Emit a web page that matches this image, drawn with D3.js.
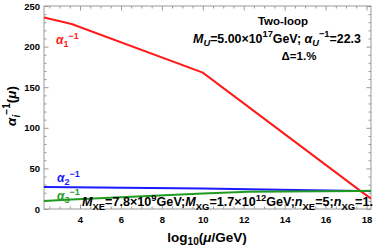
<!DOCTYPE html>
<html>
<head>
<meta charset="UTF-8">
<style>
  body { margin: 0; background: #fff; }
  svg { font-family: "Liberation Sans", Arial, sans-serif; font-weight: bold; }
  .axis path { display: none; }
  .axis line { stroke: #999; }
  .axis text { font-size: 9.5px; fill: #000; font-weight: bold; font-family: "Liberation Sans", Arial, sans-serif; }
  .frame { fill: none; stroke: #999; stroke-width: 1px; }
  .curve { fill: none; stroke-width: 2px; }
</style>
</head>
<body>
<svg width="374" height="248"></svg>
<script src="https://d3js.org/d3.v7.min.js"></script>
<script>

// log10(mu/GeV) breakpoints and inverse couplings
const logMu     = [2.24, 3.59, 10.0, 12.23, 17.7, 18.22];
const alpha1Inv = [236.0, 227.8, 168.0, 125.8, 22.3, 12.8];
const alpha2Inv = [27.1, 26.9, 25.2, 24.4, 22.3, 22.1];
const alpha3Inv = [9.9, 11.6, 19.0, 21.2, 22.3, 22.4];

const xMajor = [4, 6, 8, 10, 12, 14, 16, 18];
const yMajor = [0, 50, 100, 150, 200, 250];

const series = [
  {name: "1", values: alpha1Inv, color: "#ff1a1a"},
  {name: "2", values: alpha2Inv, color: "#1a1aff"},
  {name: "3", values: alpha3Inv, color: "#1f9c1f"}
];

const pLeft = 44, pRight = 371, pTop = 6, pBottom = 209;

let svg = d3.select("svg");

let x = d3.scaleLinear().domain([2.24, 18.22]).range([pLeft, pRight]);
let y = d3.scaleLinear().domain([0, 250]).range([pBottom, pTop]);

let xMinor = d3.range(2.5, 18.01, 0.5).filter(v => !xMajor.includes(v));
let yMinor = d3.range(0, 250.1, 10).filter(v => !yMajor.includes(v));

// axes - ticks point inside, on all four sides
svg.append("g").attr("class", "axis")
  .attr("transform", "translate(0," + pBottom + ")")
  .call(d3.axisBottom(x).tickValues(xMajor).tickSizeInner(-4.5).tickSizeOuter(0).tickPadding(7).tickFormat(d3.format("d")));
svg.append("g").attr("class", "axis")
  .attr("transform", "translate(0," + pBottom + ")")
  .call(d3.axisBottom(x).tickValues(xMinor).tickSizeInner(-2.5).tickSizeOuter(0).tickFormat(""));
svg.append("g").attr("class", "axis")
  .attr("transform", "translate(0," + pTop + ")")
  .call(d3.axisTop(x).tickValues(xMajor).tickSizeInner(-4.5).tickSizeOuter(0).tickFormat(""));
svg.append("g").attr("class", "axis")
  .attr("transform", "translate(0," + pTop + ")")
  .call(d3.axisTop(x).tickValues(xMinor).tickSizeInner(-2.5).tickSizeOuter(0).tickFormat(""));

svg.append("g").attr("class", "axis")
  .attr("transform", "translate(" + pLeft + ",0)")
  .call(d3.axisLeft(y).tickValues(yMajor).tickSizeInner(-4.5).tickSizeOuter(0).tickPadding(4));
svg.append("g").attr("class", "axis")
  .attr("transform", "translate(" + pLeft + ",0)")
  .call(d3.axisLeft(y).tickValues(yMinor).tickSizeInner(-2.5).tickSizeOuter(0).tickFormat(""));
svg.append("g").attr("class", "axis")
  .attr("transform", "translate(" + pRight + ",0)")
  .call(d3.axisRight(y).tickValues(yMajor).tickSizeInner(-4.5).tickSizeOuter(0).tickFormat(""));
svg.append("g").attr("class", "axis")
  .attr("transform", "translate(" + pRight + ",0)")
  .call(d3.axisRight(y).tickValues(yMinor).tickSizeInner(-2.5).tickSizeOuter(0).tickFormat(""));

svg.append("rect").attr("class", "frame")
  .attr("x", pLeft).attr("y", pTop)
  .attr("width", pRight - pLeft).attr("height", pBottom - pTop);

svg.append("defs").append("clipPath").attr("id", "plotclip")
  .append("rect")
  .attr("x", pLeft).attr("y", pTop)
  .attr("width", pRight - pLeft).attr("height", pBottom - pTop);

let line = d3.line()
  .x((d, i) => x(logMu[i]))
  .y(d => y(d));

svg.append("g")
  .attr("clip-path", "url(#plotclip)")
  .selectAll("path")
  .data(series)
  .join("path")
    .attr("class", "curve")
    .attr("stroke", d => d.color)
    .attr("d", d => line(d.values));

// rich text helper: parts = [text, kind], kind in "", "i", "sub", "isub", "sup"
function rich(g, px, py, size, anchor, color, parts) {
  let t = g.append("text")
    .attr("x", px).attr("y", py)
    .attr("text-anchor", anchor)
    .attr("fill", color)
    .attr("font-size", size + "px");
  let cur = 0;
  parts.forEach(p => {
    let kind = p[1] || "";
    let off = kind.includes("sub") ? 0.28 * size : kind === "sup" ? -0.42 * size : 0;
    let s = t.append("tspan")
      .attr("dy", (off - cur).toFixed(2))
      .attr("font-size", (off !== 0 ? 0.75 * size : size) + "px")
      .text(p[0]);
    if (kind.includes("i")) s.attr("font-style", "italic");
    cur = off;
  });
  return t;
}

let notes = svg.append("g");

rich(notes, 283, 25, 11.5, "middle", "#000", [["Two-loop"]]);
rich(notes, 277, 42.5, 12.4, "middle", "#000", [
  ["M", "i"], ["U", "isub"], ["=5.00\u00d710"], ["17", "sup"], ["GeV; "],
  ["\u03b1", "i"], ["U", "isub"], ["\u22121", "sup"], ["=22.3"]
]);
rich(notes, 299, 59.5, 11.5, "middle", "#000", [["\u0394=1.%"]]);

rich(notes, 56, 44, 12, "start", series[0].color, [["\u03b1", "i"], ["1", "sub"], ["\u22121", "sup"]]);
rich(notes, 57, 182, 12, "start", series[1].color, [["\u03b1", "i"], ["2", "sub"], ["\u22121", "sup"]]);
rich(notes, 57, 200, 12, "start", series[2].color, [["\u03b1", "i"], ["3", "sub"], ["\u22121", "sup"]]);

rich(notes, 82, 206, 12.6, "start", "#000", [
  ["M", "i"], ["XE", "sub"], ["=7.8\u00d710"], ["9", "sup"], ["GeV;"],
  ["M", "i"], ["XG", "sub"], ["=1.7\u00d710"], ["12", "sup"], ["GeV;"],
  ["n", "i"], ["XE", "sub"], ["=5;"],
  ["n", "i"], ["XG", "sub"], ["=1."]
]);

// axis titles
rich(svg, 207, 241.5, 13.5, "middle", "#000", [
  ["log"], ["10", "sub"], ["("], ["\u03bc", "i"], ["/GeV)"]
]);
rich(svg.append("g").attr("transform", "translate(16,106) rotate(-90)"), 0, 0, 13.5, "middle", "#000", [
  ["\u03b1", "i"], ["i", "isub"], ["\u22121", "sup"], ["("], ["\u03bc", "i"], [")"]
]);

</script>
</body>
</html>
